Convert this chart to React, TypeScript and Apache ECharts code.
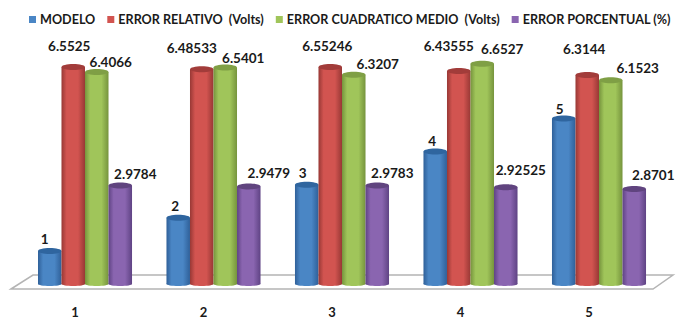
import React, { useEffect, useRef } from "react";
import * as echarts from "echarts";

const categories = ["1", "2", "3", "4", "5"];
const modelo = [1, 2, 3, 4, 5];
const errorRelativo = [6.5525, 6.48533, 6.55246, 6.43555, 6.3144];
const errorCuadratico = [6.4066, 6.5401, 6.3207, 6.6527, 6.1523];
const errorPorcentual = [2.9784, 2.9479, 2.9783, 2.92525, 2.8701];

// Label nudges from the centre of each cylinder's cap, in pixels.
const modeloNudge = [[-5, -12], [-3, -12], [-4, -12], [-3, -11], [-4, -10]];
const relativoNudge = [[-4, -21], [-10, -21], [-3, -21], [-10, -25], [-3, -26]];
const cuadraticoNudge = [[14, -10], [18, -10], [24, -11], [20, -15], [27, -12]];
const porcentualNudge = [[15, -11], [20, -13], [15, -12], [15, -17], [19, -14]];

const FONT = "Lato, sans-serif";
const TEXT = "#1a1a1a";

const palette = [
  { name: "MODELO", values: modelo, nudge: modeloNudge, main: "#4a86c5", edge: "#2f6099", cap: "#2f659f" },
  { name: "ERROR RELATIVO  (Volts)", values: errorRelativo, nudge: relativoNudge, main: "#d25450", edge: "#983835", cap: "#a23c3a" },
  { name: "ERROR CUADRATICO MEDIO  (Volts)", values: errorCuadratico, nudge: cuadraticoNudge, main: "#a0c55a", edge: "#76943d", cap: "#7f9f45" },
  { name: "ERROR PORCENTUAL (%)", values: errorPorcentual, nudge: porcentualNudge, main: "#8a65b0", edge: "#5f4384", cap: "#60447f" },
];

function cylinderSeries(index: number) {
  const s = palette[index];
  return {
    type: "custom",
    name: s.name,
    itemStyle: { color: s.main },
    data: s.values.map((v, i) => [i, v]),
    encode: { x: 0, y: 1 },
    renderItem: (_: unknown, api: any) => {
      const cat = api.value(0);
      const value = api.value(1);
      const [cx0, top] = api.coord([cat, value]);
      const [, base] = api.coord([cat, 0]);
      const band = api.size([1, 0])[0];
      const w = band * 0.183;
      const cx = cx0 + (index - 1.5) * w;
      const ry = 3;
      const body = {
        type: "linear",
        x: 0,
        y: 0,
        x2: 1,
        y2: 0,
        colorStops: [
          { offset: 0, color: s.edge },
          { offset: 0.22, color: s.main },
          { offset: 0.7, color: s.main },
          { offset: 1, color: s.edge },
        ],
      };
      const [dx, dy] = s.nudge[cat];
      return {
        type: "group",
        children: [
          { type: "ellipse", shape: { cx, cy: base, rx: w / 2, ry: ry - 1 }, style: { fill: body } },
          { type: "rect", shape: { x: cx - w / 2, y: top, width: w, height: base - top }, style: { fill: body } },
          { type: "ellipse", shape: { cx, cy: top, rx: w / 2, ry }, style: { fill: s.cap } },
          {
            type: "text",
            x: cx + dx,
            y: top + dy,
            style: {
              text: String(value),
              fill: TEXT,
              font: `bold 13.5px ${FONT}`,
              align: "center",
              verticalAlign: "middle",
            },
          },
        ],
      };
    },
  };
}

export default function App() {
  const ref = useRef<HTMLDivElement>(null);
  useEffect(() => {
    document.body.style.margin = "0";
    const chart = echarts.init(ref.current!, undefined, { renderer: "svg" });
    chart.setOption({
      animation: false,
      backgroundColor: "#ffffff",
      legend: {
        top: 8,
        left: 24,
        itemWidth: 7,
        itemHeight: 7,
        itemGap: 12,
        icon: "rect",
        selectedMode: false,
        textStyle: { fontFamily: FONT, fontWeight: "bold", fontSize: 12.6, color: TEXT, padding: [0, 0, 0, -1] },
        data: palette.map((s) => s.name),
      },
      grid: { left: 20.75, width: 642.5, top: 19.2, height: 264.8 },
      xAxis: {
        type: "category",
        data: categories,
        axisLine: { show: false },
        axisTick: { show: false },
        axisLabel: {
          margin: 21,
          padding: [0, 20, 0, 0],
          fontFamily: FONT,
          fontWeight: "bold",
          fontSize: 13,
          color: TEXT,
        },
      },
      yAxis: { type: "value", min: 0, max: 8, show: false },
      // Floor of the pseudo-3D plot, beneath the cylinders.
      graphic: [
        {
          type: "polygon",
          z: -1,
          shape: { points: [[11, 289], [33, 275], [673, 275], [653, 289]] },
          style: { fill: "#ffffff", stroke: "#b4b4b4", lineWidth: 1.5 },
        },
      ],
      series: palette.map((_, i) => cylinderSeries(i)),
    });
    return () => chart.dispose();
  }, []);
  return <div ref={ref} style={{ width: 687, height: 321 }} />;
}
